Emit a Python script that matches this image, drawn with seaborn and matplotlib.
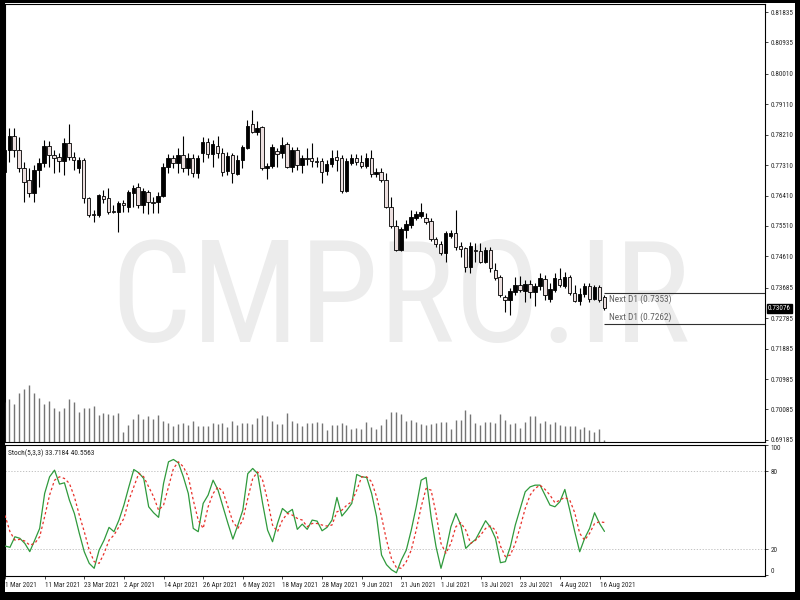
import numpy as np
import pandas as pd
import matplotlib
matplotlib.use("Agg")
import matplotlib.pyplot as plt
import matplotlib.transforms as mtransforms
from matplotlib.patches import Rectangle
from matplotlib import font_manager as fm
import seaborn as sns

# ---------------- data ----------------
dates = pd.bdate_range("2021-03-01", "2021-08-17")

open_ = [0.7710, 0.7776, 0.7817, 0.7776, 0.7722, 0.7687, 0.7648, 0.7716, 0.7737, 0.7787,
         0.7761, 0.7755, 0.7743, 0.7796, 0.7755, 0.7722, 0.7746, 0.7633, 0.7586, 0.7583,
         0.7639, 0.7633, 0.7594, 0.7592, 0.7619, 0.7607, 0.7648, 0.7666, 0.7613, 0.7651,
         0.7622, 0.7622, 0.7639, 0.7725, 0.7752, 0.7737, 0.7761, 0.7722, 0.7752, 0.7707,
         0.7767, 0.7799, 0.7764, 0.7787, 0.7767, 0.7713, 0.7761, 0.7704, 0.7746, 0.7781,
         0.7852, 0.7829, 0.7843, 0.7722, 0.7728, 0.7773, 0.7767, 0.7793, 0.7725, 0.7776,
         0.7731, 0.7752, 0.7752, 0.7743, 0.7743, 0.7713, 0.7734, 0.7755, 0.7752, 0.7654,
         0.7737, 0.7752, 0.7740, 0.7728, 0.7752, 0.7704, 0.7710, 0.7687, 0.7607, 0.7551,
         0.7480, 0.7539, 0.7554, 0.7574, 0.7580, 0.7574, 0.7566, 0.7512, 0.7498, 0.7471,
         0.7521, 0.7530, 0.7492, 0.7486, 0.7429, 0.7480, 0.7477, 0.7444, 0.7480, 0.7421,
         0.7400, 0.7341, 0.7332, 0.7356, 0.7376, 0.7359, 0.7379, 0.7356, 0.7373, 0.7394,
         0.7335, 0.7362, 0.7394, 0.7373, 0.7400, 0.7353, 0.7329, 0.7350, 0.7373, 0.7335,
         0.7370, 0.7341]
high = [0.7781, 0.7840, 0.7840, 0.7814, 0.7740, 0.7722, 0.7731, 0.7752, 0.7805, 0.7802,
        0.7776, 0.7767, 0.7811, 0.7852, 0.7770, 0.7755, 0.7752, 0.7636, 0.7598, 0.7645,
        0.7657, 0.7663, 0.7613, 0.7625, 0.7628, 0.7657, 0.7672, 0.7678, 0.7663, 0.7657,
        0.7636, 0.7651, 0.7737, 0.7764, 0.7761, 0.7781, 0.7817, 0.7767, 0.7764, 0.7761,
        0.7814, 0.7811, 0.7805, 0.7817, 0.7781, 0.7770, 0.7767, 0.7761, 0.7790, 0.7864,
        0.7894, 0.7861, 0.7846, 0.7737, 0.7793, 0.7781, 0.7814, 0.7799, 0.7784, 0.7784,
        0.7761, 0.7781, 0.7796, 0.7755, 0.7752, 0.7746, 0.7776, 0.7776, 0.7761, 0.7752,
        0.7764, 0.7764, 0.7761, 0.7767, 0.7776, 0.7722, 0.7722, 0.7707, 0.7636, 0.7569,
        0.7548, 0.7569, 0.7598, 0.7595, 0.7619, 0.7589, 0.7574, 0.7518, 0.7507, 0.7536,
        0.7539, 0.7598, 0.7504, 0.7489, 0.7504, 0.7501, 0.7501, 0.7489, 0.7489, 0.7441,
        0.7406, 0.7347, 0.7367, 0.7400, 0.7403, 0.7391, 0.7391, 0.7382, 0.7412, 0.7406,
        0.7382, 0.7412, 0.7426, 0.7415, 0.7406, 0.7376, 0.7367, 0.7382, 0.7382, 0.7376,
        0.7376, 0.7347]
low = [0.7701, 0.7740, 0.7755, 0.7710, 0.7622, 0.7636, 0.7622, 0.7666, 0.7725, 0.7725,
       0.7707, 0.7710, 0.7701, 0.7746, 0.7716, 0.7707, 0.7619, 0.7577, 0.7563, 0.7577,
       0.7619, 0.7586, 0.7589, 0.7533, 0.7592, 0.7592, 0.7607, 0.7604, 0.7589, 0.7586,
       0.7589, 0.7589, 0.7636, 0.7707, 0.7722, 0.7707, 0.7710, 0.7701, 0.7695, 0.7692,
       0.7740, 0.7752, 0.7725, 0.7752, 0.7698, 0.7701, 0.7678, 0.7701, 0.7722, 0.7778,
       0.7826, 0.7820, 0.7716, 0.7689, 0.7722, 0.7725, 0.7752, 0.7722, 0.7710, 0.7716,
       0.7707, 0.7731, 0.7725, 0.7725, 0.7678, 0.7701, 0.7725, 0.7713, 0.7648, 0.7651,
       0.7731, 0.7731, 0.7722, 0.7722, 0.7695, 0.7695, 0.7681, 0.7604, 0.7545, 0.7477,
       0.7477, 0.7515, 0.7545, 0.7569, 0.7574, 0.7557, 0.7507, 0.7489, 0.7465, 0.7444,
       0.7515, 0.7480, 0.7459, 0.7415, 0.7412, 0.7444, 0.7441, 0.7441, 0.7415, 0.7391,
       0.7341, 0.7297, 0.7288, 0.7347, 0.7356, 0.7326, 0.7338, 0.7314, 0.7362, 0.7332,
       0.7326, 0.7356, 0.7370, 0.7367, 0.7347, 0.7326, 0.7317, 0.7341, 0.7326, 0.7332,
       0.7326, 0.7303]
close = [0.7776, 0.7817, 0.7776, 0.7722, 0.7681, 0.7648, 0.7716, 0.7737, 0.7787, 0.7761,
         0.7752, 0.7743, 0.7796, 0.7755, 0.7746, 0.7746, 0.7633, 0.7583, 0.7583, 0.7642,
         0.7630, 0.7592, 0.7593, 0.7619, 0.7613, 0.7651, 0.7663, 0.7613, 0.7654, 0.7622,
         0.7619, 0.7639, 0.7725, 0.7752, 0.7737, 0.7761, 0.7722, 0.7752, 0.7707, 0.7752,
         0.7799, 0.7764, 0.7793, 0.7767, 0.7710, 0.7758, 0.7707, 0.7746, 0.7784, 0.7846,
         0.7829, 0.7840, 0.7722, 0.7728, 0.7784, 0.7764, 0.7790, 0.7725, 0.7776, 0.7731,
         0.7752, 0.7749, 0.7743, 0.7740, 0.7710, 0.7734, 0.7752, 0.7746, 0.7654, 0.7743,
         0.7752, 0.7740, 0.7728, 0.7752, 0.7704, 0.7710, 0.7687, 0.7607, 0.7551, 0.7480,
         0.7542, 0.7557, 0.7577, 0.7586, 0.7592, 0.7563, 0.7512, 0.7498, 0.7471, 0.7530,
         0.7530, 0.7489, 0.7483, 0.7429, 0.7492, 0.7477, 0.7444, 0.7480, 0.7426, 0.7397,
         0.7347, 0.7332, 0.7359, 0.7376, 0.7362, 0.7379, 0.7356, 0.7373, 0.7397, 0.7347,
         0.7364, 0.7397, 0.7376, 0.7400, 0.7353, 0.7329, 0.7350, 0.7373, 0.7335, 0.7370,
         0.7332, 0.73076]
volume = [120, 130, 113, 148, 160, 170, 148, 132, 115, 123,
          102, 93, 102, 128, 120, 90, 102, 102, 108, 80,
          87, 85, 80, 87, 30, 52, 70, 85, 70, 77,
          70, 80, 62, 57, 48, 55, 57, 52, 62, 48,
          48, 48, 57, 55, 57, 45, 62, 50, 58, 58,
          53, 72, 82, 78, 62, 53, 53, 87, 62, 57,
          48, 57, 57, 60, 57, 37, 50, 50, 57, 50,
          40, 43, 40, 60, 45, 40, 50, 70, 90, 90,
          85, 62, 65, 60, 53, 52, 53, 57, 60, 60,
          40, 67, 65, 97, 85, 57, 52, 60, 60, 57,
          85, 67, 55, 57, 43, 60, 77, 77, 57, 63,
          53, 60, 50, 47, 47, 48, 40, 45, 37, 30,
          40, 7]
stoch_k = [22.5, 21.5, 29.6, 28.4, 24.5, 18.2, 27.0, 36.0, 62.8, 75.6,
           80.7, 70.0, 71.0, 57.7, 47.5, 32.2, 18.1, 9.2, 5.4, 19.4,
           27.0, 36.8, 33.5, 42.4, 53.9, 67.9, 81.2, 78.7, 74.3, 52.6,
           48.0, 44.5, 70.5, 87.1, 88.9, 86.3, 75.6, 62.8, 36.0, 33.5,
           55.2, 61.6, 73.0, 65.4, 52.6, 39.8, 27.8, 38.6, 50.0, 78.0,
           82.0, 78.0, 55.2, 34.7, 25.8, 39.8, 51.3, 48.0, 50.6, 35.3,
           39.3, 35.3, 42.4, 41.6, 34.2, 36.8, 42.4, 59.8, 45.5, 50.0,
           55.2, 77.4, 75.6, 75.1, 62.8, 45.0, 15.6, 8.2, 4.3, 2.0,
           11.8, 19.4, 34.7, 52.6, 73.0, 75.1, 45.0, 22.0, 5.4, 19.4,
           37.3, 47.5, 38.6, 20.7, 24.5, 27.6, 34.7, 41.9, 36.8, 28.4,
           9.7, 10.5, 22.0, 38.6, 51.3, 64.1, 67.9, 69.2, 69.2, 61.6,
           53.9, 52.6, 56.5, 65.9, 50.0, 33.5, 18.1, 28.4, 36.0, 48.0,
           39.8, 33.7184]
stoch_d = [46.0, 33.5, 27.0, 27.6, 26.3, 23.2, 24.5, 29.6, 45.0, 61.6,
           73.0, 75.6, 74.3, 70.5, 60.3, 46.2, 33.5, 19.4, 10.5, 9.2,
           16.9, 27.0, 30.9, 37.3, 43.7, 57.7, 67.9, 78.2, 75.6, 67.9,
           60.3, 50.0, 53.9, 67.9, 82.0, 87.1, 83.3, 75.6, 57.7, 42.4,
           36.0, 52.6, 62.8, 67.9, 64.1, 52.6, 41.1, 36.0, 42.4, 59.0,
           74.3, 79.4, 73.0, 57.7, 38.6, 33.5, 42.4, 47.5, 46.2, 43.7,
           42.4, 37.3, 39.8, 39.8, 38.6, 37.8, 38.6, 48.8, 50.0, 53.9,
           56.5, 65.4, 75.6, 75.6, 71.8, 60.3, 45.0, 27.0, 13.0, 6.0,
           5.4, 10.5, 19.4, 34.7, 52.6, 66.7, 65.4, 47.5, 24.5, 16.9,
           24.5, 37.3, 40.4, 34.7, 24.5, 27.0, 30.9, 36.0, 37.8, 34.7,
           22.5, 14.3, 15.6, 24.5, 37.3, 51.3, 61.6, 66.7, 69.2, 65.9,
           61.6, 55.7, 57.7, 59.8, 57.7, 48.0, 32.2, 27.0, 32.2, 39.8,
           41.1, 40.5563]
price_ticks = [0.81835, 0.80935, 0.80010, 0.79110, 0.78210, 0.77310, 0.76410, 0.75510,
               0.74610, 0.73685, 0.72785, 0.71885, 0.70985, 0.70085, 0.69185]
stoch_ticks = [0, 20, 80, 100]
date_labels = ["1 Mar 2021", "11 Mar 2021", "23 Mar 2021", "2 Apr 2021", "14 Apr 2021",
               "26 Apr 2021", "6 May 2021", "18 May 2021", "28 May 2021", "9 Jun 2021",
               "21 Jun 2021", "1 Jul 2021", "13 Jul 2021", "23 Jul 2021", "4 Aug 2021",
               "16 Aug 2021"]
next_d1 = [0.7353, 0.7262]
last_price = 0.73076

# ---------------- fonts ----------------
sns.set_style("white")
avail = {f.name for f in fm.fontManager.ttflist}
narrow_choices = ['Liberation Sans Narrow', 'Roboto Condensed', 'Open Sans Condensed',
                  'DejaVu Sans Condensed']
narrow = next((f for f in narrow_choices if f in avail), None)
small_font = [narrow or 'Liberation Sans', 'DejaVu Sans']
plt.rcParams['font.family'] = small_font
k = 1.15 if narrow else 1.0   # narrow fonts may be a bit larger

# ---------------- figure ----------------
W, H = 800, 600
fig = plt.figure(figsize=(8, 6), dpi=100, facecolor='white')

ax = fig.add_axes([5 / W, (H - 442) / H, 760 / W, 438 / H])
ax2 = fig.add_axes([5 / W, (H - 576) / H, 760 / W, 131 / H])

n = len(close)
x = np.arange(n)
o = np.array(open_); c = np.array(close); hi = np.array(high); lo = np.array(low)
bull = c > o
XL = (0.14, 153.4)
YL = (0.69124, 0.82072)

# volume on a twin axis (created first so the price axis stays on the right)
axv = ax.twinx()
axv.vlines(x, 0, volume, color='#747474', lw=1.0)
axv.set_ylim(0, 1314)
axv.set_xlim(*XL)
axv.axis('off')

# watermark
wm_family = [narrow or 'Liberation Sans', 'DejaVu Sans']
wm = ax.text(0.52, 0.5, "CMPRO.IR", transform=ax.transAxes, ha='center', va='baseline',
             fontsize=100, color='#ececec', zorder=0, family=wm_family)
fig.canvas.draw()
bb = wm.get_window_extent()
fs = 100 * 580 / bb.width
wm.set_fontsize(fs)
cap_px = 0.72 * fs * 100 / 72
base_px_from_top = 290 + cap_px / 2
wm.set_y((442 - base_px_from_top) / 438)

# candles
ax.vlines(x, lo, hi, color='black', lw=0.8, zorder=2)
bottoms = np.minimum(o, c)
heights = np.maximum(np.abs(c - o), 0.00007)
fills = ['black' if b else '#ecdfdf' for b in bull]
ax.bar(x, heights, bottom=bottoms, width=0.7, color=fills, edgecolor='black',
       linewidth=0.6, zorder=3)

ax.set_xlim(*XL)
ax.set_ylim(*YL)
ax.yaxis.tick_right()
ax.yaxis.set_label_position('right')
ax.set_yticks(price_ticks)
ax.set_yticklabels([f"{v:.5f}" for v in price_ticks])
ax.tick_params(axis='y', labelsize=4.5 * k, length=2.5, pad=1.5, width=0.6,
               right=True, left=False, labelright=True, labelleft=False)
ax.tick_params(axis='x', bottom=False, labelbottom=False)
for s in ax.spines.values():
    s.set_color('black'); s.set_linewidth(0.8)

# next D1 lines
ax.hlines(next_d1, 121, XL[1], color='#303030', lw=0.8, zorder=4)
ax.text(121.9, next_d1[0] - 0.0004, f"Next D1 ({next_d1[0]:.4f})", va='top', ha='left',
        fontsize=5.8 * k, color='#606060', zorder=4)
ax.text(121.9, next_d1[1] + 0.0004, f"Next D1 ({next_d1[1]:.4f})", va='bottom', ha='left',
        fontsize=5.8 * k, color='#606060', zorder=4)

# current price label
trans = mtransforms.blended_transform_factory(ax.transAxes, ax.transData)
ax.text(1.004, last_price, f"{last_price:.5f}", transform=trans, ha='left', va='center',
        fontsize=4.5 * k, color='white', zorder=6, clip_on=False,
        bbox=dict(facecolor='black', edgecolor='black', pad=0.9))

# stochastic
sdf = pd.DataFrame({"bar": x, "K": stoch_k, "D": stoch_d})
ax2.axhline(20, color='#b8b8b8', lw=0.6, ls=(0, (1.5, 2)), zorder=1)
ax2.axhline(80, color='#b8b8b8', lw=0.6, ls=(0, (1.5, 2)), zorder=1)
sns.lineplot(data=sdf, x="bar", y="K", ax=ax2, color='#2f9a3c', lw=0.9, zorder=3)
sns.lineplot(data=sdf, x="bar", y="D", ax=ax2, color='#e8302a', lw=0.9,
             linestyle=(0, (2, 2)), zorder=4)
ax2.set_xlim(*XL)
ax2.set_ylim(-0.5, 99.9)
ax2.set_xlabel(""); ax2.set_ylabel("")
ax2.yaxis.tick_right()
ax2.set_yticks(stoch_ticks)
ax2.set_yticklabels([str(v) for v in stoch_ticks])
ax2.tick_params(axis='y', labelsize=4.5 * k, length=2.5, pad=1.5, width=0.6,
                right=True, left=False)
for lbl, v in zip(ax2.get_yticklabels(), stoch_ticks):
    if v == 100:
        lbl.set_va('top')
    elif v == 0:
        lbl.set_va('bottom')
tick_pos = [dates.get_loc(pd.Timestamp(lbl)) for lbl in date_labels]
ax2.set_xticks(tick_pos)
ax2.set_xticklabels(date_labels, ha='left')
ax2.tick_params(axis='x', labelsize=4.5 * k, length=2.5, pad=2, width=0.6, bottom=True)
for s in ax2.spines.values():
    s.set_color('black'); s.set_linewidth(0.8)
ax2.text(0.004, 0.965, f"Stoch(5,3,3) {stoch_k[-1]:.4f} {stoch_d[-1]:.4f}",
         transform=ax2.transAxes, ha='left', va='top', fontsize=4.6 * k, color='#202020')

# black frame
for rect in [(0, 0, 5 / W, 1), (795 / W, 0, 5 / W, 1), (0, 0, 1, 8 / H), (0, 1 - 3 / H, 1, 3 / H)]:
    fig.add_artist(Rectangle(rect[:2], rect[2], rect[3], transform=fig.transFigure,
                             facecolor='black', edgecolor='none', zorder=20))

fig.savefig("out.png", dpi=100, facecolor='white')
